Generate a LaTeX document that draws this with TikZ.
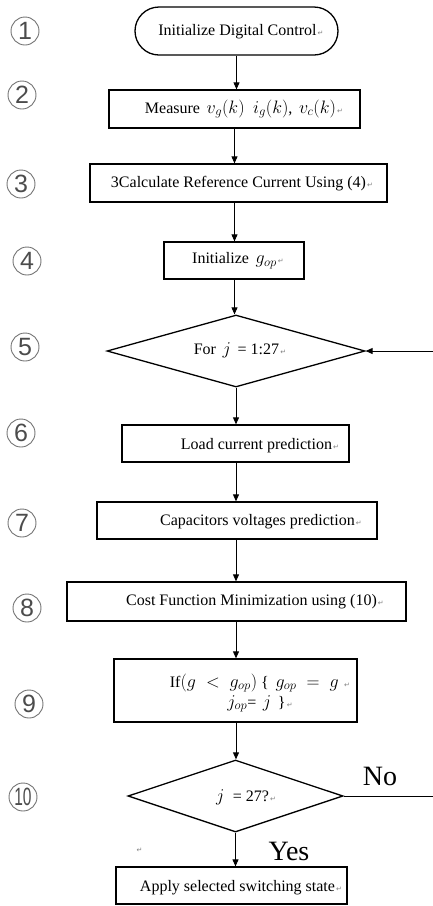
\RequirePackage{fix-cm}
\documentclass[tikz,border=0pt]{standalone}
\usepackage{fontspec}
\setmainfont{Liberation Serif}
\newfontfamily\dejavu{DejaVu Sans}
\newfontfamily\lsans{Liberation Sans}
\usetikzlibrary{shapes.geometric,arrows.meta}
\newcommand{\retmark}{{\fontsize{7}{7}\dejavu\color{gray}\,↵}}
\newcommand{\mth}[1]{{\fontsize{18}{19}\selectfont$#1$}}
\begin{document}
\begin{tikzpicture}[x=1pt,y=-1pt,
  box/.style={draw, line width=1.3pt, inner sep=0pt},
  dia/.style={draw, diamond, line width=1.3pt, inner sep=0pt, aspect=3},
  txt/.style={inner sep=0pt, font=\rmfamily\fontsize{16}{19}\selectfont, align=center},
  num/.style={circle, draw=black!55, line width=0.9pt, inner sep=0pt, minimum size=28pt, font=\lsans\fontsize{25}{25}\selectfont, text=black!70},
  big/.style={inner sep=0pt, font=\rmfamily\fontsize{28}{28}\selectfont},
  arr/.style={line width=0.9pt, -{Triangle[length=7pt,width=6pt]}},
  ln/.style={line width=0.9pt}]
\useasboundingbox (0,0) rectangle (433,906);
% shapes
\node[box, rounded corners=24pt, minimum width=203pt, minimum height=48pt] (b1) at (236.5,31) {};
\node[box, minimum width=251pt, minimum height=38pt] (b2) at (234.5,109) {};
\node[box, minimum width=297pt, minimum height=38pt] (b3) at (238.5,183) {};
\node[box, minimum width=140pt, minimum height=37pt] (b4) at (234,260.5) {};
\node[dia, minimum width=258pt, minimum height=72pt] (d5) at (236,351) {};
\node[box, minimum width=227pt, minimum height=37pt] (b6) at (235.5,443.5) {};
\node[box, minimum width=280pt, minimum height=37pt] (b7) at (237,520.5) {};
\node[box, minimum width=339pt, minimum height=39pt] (b8) at (236.5,601.5) {};
\node[box, minimum width=243pt, minimum height=63pt] (b9) at (235.5,690.5) {};
\node[dia, minimum width=215pt, minimum height=72pt] (d10) at (235.5,796) {};
\node[box, minimum width=231pt, minimum height=37pt] (b11) at (231.5,885.5) {};
% texts
\node[txt] (t1) at (241,32) {Initialize Digital Control\retmark};
\node[txt] (t2) at (244,109) {Measure \,\mth{v_g(k)}\; \mth{i_g(k)}, \,\mth{v_c(k)}\retmark};
\node[txt] (t3) at (242,184) {3Calculate Reference Current Using (4)\retmark};
\node[txt] (t4) at (238,261) {Initialize \,\mth{g_{op}}\retmark};
\node[txt] (t5) at (240,350) {For \,\mth{j}\, = 1:27\retmark};
\node[txt] (t6) at (260,446) {Load current prediction\retmark};
\node[txt] (t7) at (261,522) {Capacitors voltages prediction\retmark};
\node[txt] (t8) at (255,602) {Cost Function Minimization using (10)\retmark};
\node[txt] (t9) at (260,693) {If\mth{(g\;<\;g_{op})} \{ \,\mth{g_{op}\;=\;g}\;\retmark\\[1pt] \mth{j_{op}}= \,\mth{j}\, \}\retmark};
\node[txt] (t10) at (246,797) {\mth{j}\; = 27?\retmark};
\node[txt] (t11) at (241,888) {Apply selected switching state\retmark};
\node[inner sep=0pt] (stray) at (139,850) {\retmark};
% step numbers
\node[num] (n1) at (25,31) {1};
\node[num] (n2) at (22,95) {2};
\node[num] (n3) at (21,184) {3};
\node[num] (n4) at (27,261) {4};
\node[num] (n5) at (25,347) {5};
\node[num] (n6) at (21,433) {6};
\node[num] (n7) at (22,523) {7};
\node[num] (n8) at (27,608) {8};
\node[num] (n9) at (29,704) {9};
\node[num] (n10) at (23,797) {\scalebox{0.62}[1]{10}};
% labels
\node[big] (no) at (380,776) {No};
\node[big] (yes) at (289,851) {Yes};
% connectors
\draw[arr] (b1.south) -- (b1.south |- b2.north);
\draw[arr] (b2.south) -- (b2.south |- b3.north);
\draw[arr] (b3.south -| b2.south) -- (b2.south |- b4.north);
\draw[arr] (b4.south -| b2.south) -- (b2.south |- d5.north);
\draw[arr] (d5.south) -- (d5.south |- b6.north);
\draw[arr] (b6.south -| d5.south) -- (d5.south |- b7.north);
\draw[arr] (b7.south -| d5.south) -- (d5.south |- b8.north);
\draw[arr] (b8.south -| d5.south) -- (d5.south |- b9.north);
\draw[arr] (b9.south -| d5.south) -- (d5.south |- d10.north);
\draw[arr] (d10.south) -- (d10.south |- b11.north);
\coordinate (e5) at (433,351);
\coordinate (e10) at (433,796);
\draw[arr] (e5) -- (d5.east);
\draw[ln] (d10.east) -- (e10);
\end{tikzpicture}
\end{document}
